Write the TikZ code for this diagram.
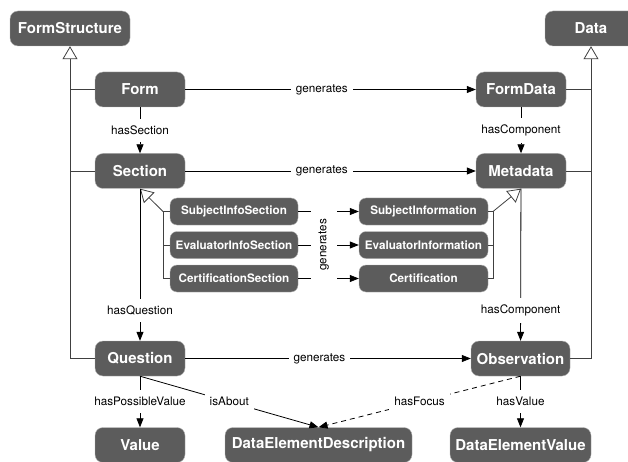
\documentclass[tikz,border=0pt]{standalone}
\usepackage{fontspec}
\setmainfont{TeX Gyre Heros}
\setsansfont{TeX Gyre Heros}
\usetikzlibrary{arrows.meta}
\definecolor{boxgray}{HTML}{5C5C5C}

\tikzset{
	cls/.style={draw=black!30, fill=boxgray, rounded corners=8pt, text=white,
		font=\fontsize{15}{17}\selectfont\bfseries, minimum width=90pt, minimum height=35pt, inner sep=2pt},
	subcls/.style={cls, font=\fontsize{11.7}{13}\selectfont\bfseries, minimum height=27pt, rounded corners=7pt},
	rel/.style={line width=0.8pt, -{Triangle[length=9pt,width=7pt]}},
	lbl/.style={fill=white, font=\fontsize{11.7}{13}\selectfont, inner xsep=5pt, inner ysep=7pt},
	gap/.style={fill=white, minimum width=26pt, minimum height=4pt, inner sep=0pt},
	isa/.style={line width=0.8pt, draw=black!75, -{Triangle[open,length=13pt,width=15pt]}},
	isaline/.style={line width=0.8pt, draw=black!75}
}

\begin{document}
\begin{tikzpicture}[x=1pt,y=-1pt]
	\useasboundingbox (0,0) rectangle (628,462);
	\clip (0,0) rectangle (628,462);

	\node[cls, minimum width=120pt] (formstructure) at (70,28.5) {FormStructure};
	\node[cls, minimum width=92pt] (data) at (591,28.5) {Data};
	\node[cls] (form) at (140,89.5) {Form};
	\node[cls] (formdata) at (521,89.5) {FormData};
	\node[cls] (section) at (140,171) {Section};
	\node[cls] (metadata) at (521,171) {Metadata};
	\node[subcls, minimum width=128pt] (subjsec) at (234,211.5) {SubjectInfoSection};
	\node[subcls, minimum width=128pt] (evalsec) at (234,245) {EvaluatorInfoSection};
	\node[subcls, minimum width=128pt] (certsec) at (234,278.5) {CertificationSection};
	\node[subcls, minimum width=129pt] (subjinfo) at (423.5,211.5) {SubjectInformation};
	\node[subcls, minimum width=129pt] (evalinfo) at (423.5,245) {EvaluatorInformation};
	\node[subcls, minimum width=129pt] (cert) at (423.5,278.5) {Certification};
	\node[cls] (question) at (140,358.5) {Question};
	\node[cls, minimum width=99pt] (observation) at (520.5,358.5) {Observation};
	\node[cls] (value) at (140,445) {Value};
	\node[cls, minimum width=187pt] (dedesc) at (318.5,445) {DataElementDescription};
	\node[cls, minimum width=141pt] (devalue) at (520.5,445) {DataElementValue};

	\draw[isa] (question.west) -| (formstructure.south);
	\draw[isaline] (form.west) -- (form.west -| formstructure.south);
	\draw[isaline] (section.west) -- (section.west -| formstructure.south);
	\draw[isa] (observation.east) -| (data.south);
	\draw[isaline] (formdata.east) -- (formdata.east -| data.south);
	\draw[isaline] (metadata.east) -- (metadata.east -| data.south);

	\coordinate (lbar) at (163,211.5);
	\coordinate (rbar) at (493,211.5);
	\draw[isaline] (certsec.west) -| (lbar);
	\draw[isaline] (subjsec.west) -- (lbar);
	\draw[isaline] (evalsec.west) -- (evalsec.west -| lbar);
	\draw[isa] (lbar) -- (section.south);
	\draw[isaline] (cert.east) -| (rbar);
	\draw[isaline] (subjinfo.east) -- (rbar);
	\draw[isaline] (evalinfo.east) -- (evalinfo.east -| rbar);
	\draw[isa] (rbar) -- (metadata.south);

	\draw[rel] (form) -- node[lbl, pos=0.47] {generates} (formdata);
	\draw[rel] (form) -- node[lbl] {hasSection} (section);
	\draw[rel] (formdata) -- node[lbl] {hasComponent} (metadata);
	\draw[rel] (section) -- node[lbl, pos=0.47] {generates} (metadata);
	\draw[rel] (section) -- node[lbl, pos=0.8] {hasQuestion} (question);
	\draw[rel] (metadata) -- node[lbl, pos=0.8] {hasComponent} (observation);
	\draw[rel] (question) -- node[lbl, pos=0.47] {generates} (observation);
	\draw[rel] (question) -- node[lbl] {hasPossibleValue} (value);
	\draw[rel] (question.south) -- node[lbl] {isAbout} (dedesc.north);
	\draw[rel, dashed, dash pattern=on 5pt off 4pt] (observation.south) -- node[lbl] {hasFocus} (dedesc.north);
	\draw[rel] (observation) -- node[lbl] {hasValue} (devalue);

	\draw[rel] (subjsec) -- node[gap, pos=0.42] {} (subjinfo);
	\draw[rel] (evalsec) -- node[gap, pos=0.42] (gengap) {} (evalinfo);
	\draw[rel] (certsec) -- node[gap, pos=0.42] {} (cert);
	\node[rotate=90, font=\fontsize{11.7}{13}\selectfont] (genlabel) at (gengap) {generates};
\end{tikzpicture}
\end{document}
